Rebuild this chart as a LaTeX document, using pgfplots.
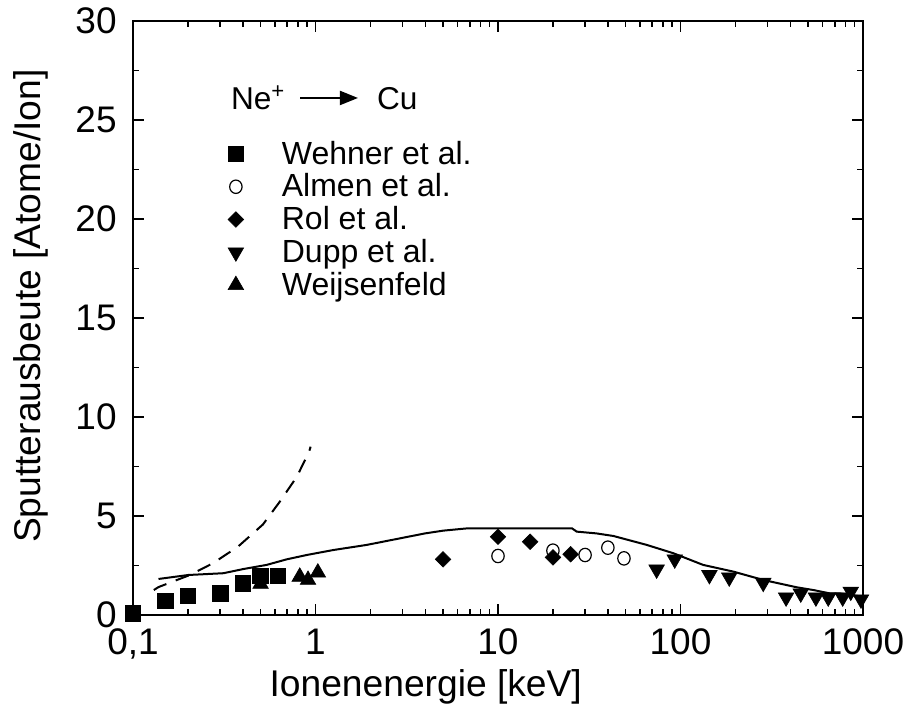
\documentclass[border=0pt]{standalone}
\usepackage{pgfplots}
\pgfplotsset{compat=1.18}
\usepackage{fontspec}
\setmainfont{Liberation Sans}
\usetikzlibrary{arrows.meta}
\pgfplotsset{myleg/.style={legend image code/.code={\path[draw=none,fill=none] (-5pt,0pt) (21pt,0pt); \draw[##1] plot coordinates {(0pt,0pt)};}}}
\begin{document}
\begin{tikzpicture}
\begin{axis}[
  scale only axis, width=365pt, height=297pt,
  xmode=log, xmin=0.1, xmax=1000, ymin=0, ymax=30,
  xtick={0.1,1,10,100,1000}, xticklabels={{0,1},1,10,100,1000},
  minor xtick={0.2,0.3,0.4,0.5,0.6,0.7,0.8,0.9,2,3,4,5,6,7,8,9,20,30,40,50,60,70,80,90,200,300,400,500,600,700,800,900},
  ytick={0,5,10,15,20,25,30},
  minor ytick={2.5,7.5,12.5,17.5,22.5,27.5},
  tick align=inside,
  major tick length=5.5pt, minor tick length=3pt,
  axis line style={line width=1pt},
  every tick/.style={line width=0.8pt, black},
  /pgf/number format/assume math mode=true,
  tick label style={font=\fontsize{18.5}{22}\selectfont, inner sep=0pt},
  xticklabel style={anchor=base, yshift=-20pt},
  yticklabel style={anchor=east, xshift=-8pt},
  label style={font=\fontsize{18.6}{22}\selectfont},
  xlabel={Ionenenergie [keV]},
  ylabel={Sputterausbeute [Atome/Ion]},
  xlabel style={at={(axis description cs:0.401,-0.138)}, anchor=base},
  ylabel style={at={(axis description cs:-0.127,0.52)}, anchor=base},
  legend style={draw=none, fill=none, inner sep=0pt, at={(axis description cs:0.1267,0.8056)}, anchor=north west,
    font=\fontsize{16}{19}\selectfont, row sep=-0.7pt},
  legend cell align=left,
  clip=false,
]
\coordinate (ll) at (rel axis cs:0,0);
\coordinate (ur) at (rel axis cs:1,1);
% solid curve
\addplot[black, line width=1pt, forget plot] coordinates {
(0.138,1.82) (0.201,2.02) (0.313,2.11) (0.402,2.32) (0.54,2.53) (0.695,2.81) (0.895,3.03)
(1.25,3.28) (1.91,3.54) (2.9,3.87) (3.98,4.12) (5.01,4.26) (6.87,4.38) (25.4,4.38) (27,4.21)
(34.7,4.12) (42.9,3.99) (65.3,3.54) (91.3,3.12) (133,2.53) (195,2.19) (284,1.77) (433,1.40)
(535,1.26) (659,1.09) (748,1.09) (1000,0.92)};
% dashed curve
\addplot[black, line width=1pt, dash pattern=on 7pt off 5pt, forget plot] coordinates {
(0.13,1.26) (0.138,1.41) (0.205,2.02) (0.275,2.62) (0.376,3.45) (0.515,4.57) (0.637,5.72)
(0.79,6.98) (0.923,8.25) (0.94,8.5)};
% Wehner
\addplot[only marks, mark=square*, mark size=3.9pt, black, mark options={line width=0.3pt}, myleg] coordinates {
(0.1,0.09) (0.15,0.71) (0.2,0.97) (0.3,1.10) (0.4,1.60) (0.5,1.98) (0.62,1.98)};
\addlegendentry{Wehner et al.}
% Almen
\addplot[only marks, mark=o, mark size=3.1pt, black, mark options={line width=0.6pt, yscale=1.08}, myleg] coordinates {
(10,2.98) (20,3.25) (30,3.03) (40,3.40) (49,2.86)};
\addlegendentry{Almen et al.}
% Rol
\addplot[only marks, mark=square*, mark size=2.75pt, black, mark options={rotate=45, line width=0.3pt}, myleg] coordinates {
(5,2.81) (10,3.95) (15,3.70) (20,2.91) (25,3.07)};
\addlegendentry{Rol et al.}
% Dupp
\addplot[only marks, mark=triangle*, mark size=4.5pt, black, mark options={rotate=180, line width=0.3pt}, myleg] coordinates {
(74,2.30) (93,2.81) (144,2.02) (185,1.90) (284,1.63) (379,0.89) (456,1.09) (552,0.89)
(645,0.89) (774,0.89) (857,1.18) (975,0.79)};
\addlegendentry{Dupp et al.}
% Weijsenfeld
\addplot[only marks, mark=triangle*, mark size=4.5pt, black, mark options={line width=0.3pt}, myleg] coordinates {
(0.5,1.57) (0.82,1.93) (0.91,1.77) (1.03,2.14)};
\addlegendentry{Weijsenfeld}
\node[anchor=base west, inner sep=0pt, font=\fontsize{15.8}{19}\selectfont] at (axis description cs:0.1338,0.8513) {Ne\textsuperscript{+}};
\draw[line width=1pt, -{Triangle[length=9pt,width=7pt]}] (axis description cs:0.2288,0.8704) -- (axis description cs:0.3082,0.8704);
\node[anchor=base west, inner sep=0pt, font=\fontsize{15.8}{19}\selectfont] at (axis description cs:0.3338,0.8513) {Cu};
\end{axis}
\pgfresetboundingbox
\path[use as bounding box] ([xshift=-66.5pt,yshift=-45pt]ll) rectangle ([xshift=21.5pt,yshift=10.5pt]ur);
\end{tikzpicture}
\end{document}
